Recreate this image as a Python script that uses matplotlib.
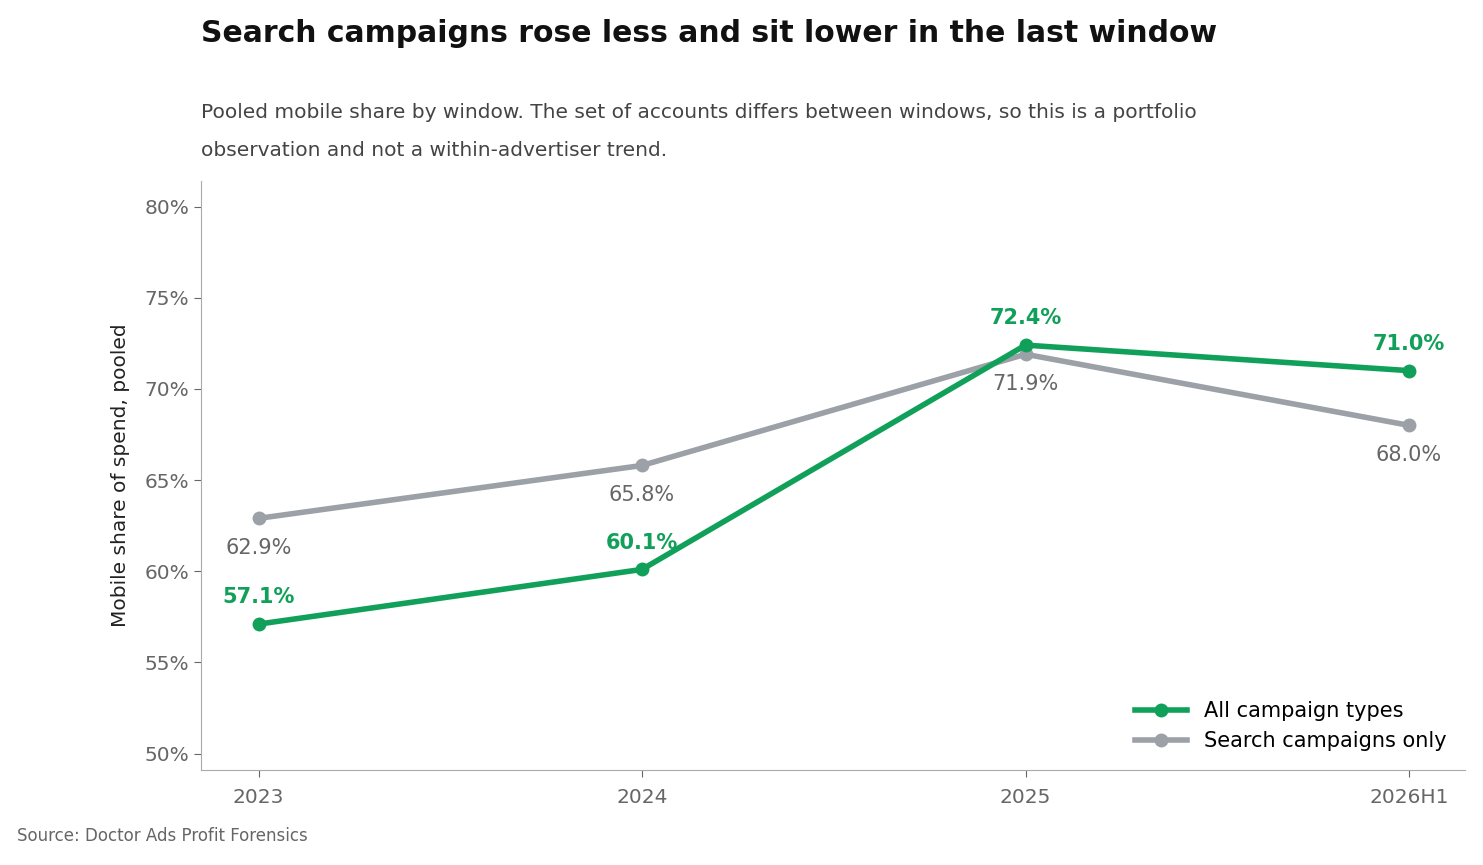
import matplotlib
matplotlib.use("Agg")
import matplotlib.pyplot as plt
from matplotlib.ticker import FuncFormatter

plt.rcParams['font.family'] = ['DejaVu Sans']

windows = ["2023", "2024", "2025", "2026H1"]
all_types = [57.1, 60.1, 72.4, 71.0]
search_only = [62.9, 65.8, 71.9, 68.0]

green = "#11a05a"
grey = "#9ca1a8"

fig = plt.figure(figsize=(14.83, 8.65), dpi=100)
ax = fig.add_axes([201/1483, 1-770/865, (1465-201)/1483, (770-181)/865])
x = list(range(len(windows)))
ax.plot(x, all_types, color=green, lw=4, marker="o", ms=9, label="All campaign types", zorder=3)
ax.plot(x, search_only, color=grey, lw=4, marker="o", ms=9, label="Search campaigns only", zorder=2)

for i, v in enumerate(all_types):
    ax.annotate(f"{v:.1f}%", (i, v), xytext=(0, 12), textcoords="offset points",
                ha="center", va="bottom", color=green, fontsize=15, fontweight="bold")
for i, v in enumerate(search_only):
    ax.annotate(f"{v:.1f}%", (i, v), xytext=(0, -14), textcoords="offset points",
                ha="center", va="top", color="#666666", fontsize=15)

ax.set_xlim(-0.15, 3.146)
ax.set_ylim(49.1, 81.4)
ax.set_yticks([50, 55, 60, 65, 70, 75, 80])
ax.yaxis.set_major_formatter(FuncFormatter(lambda v, p: f"{v:.0f}%"))
ax.set_xticks(x)
ax.set_xticklabels(windows)
ax.tick_params(colors="#666666", labelsize=14.5, length=5)
ax.tick_params(axis="x", pad=8)
for s in ["top", "right"]:
    ax.spines[s].set_visible(False)
for s in ["left", "bottom"]:
    ax.spines[s].set_color("#aaaaaa")
ax.set_ylabel("Mobile share of spend, pooled", fontsize=14.5, color="#222222", labelpad=10)

leg = ax.legend(loc="lower right", frameon=False, fontsize=15, handlelength=2.5)

fig.text(201/1483, 1-33/865, "Search campaigns rose less and sit lower in the last window",
         fontsize=21.5, fontweight="bold", color="#111111", va="center", ha="left")
fig.text(201/1483, 1-112/865, "Pooled mobile share by window. The set of accounts differs between windows, so this is a portfolio",
         fontsize=14.5, color="#444444", va="center", ha="left")
fig.text(201/1483, 1-150/865, "observation and not a within-advertiser trend.",
         fontsize=14.5, color="#444444", va="center", ha="left")
fig.text(17/1483, 1-836/865, "Source: Doctor Ads Profit Forensics", fontsize=12, color="#666666",
         va="center", ha="left")

fig.savefig("out.png", dpi=100)
